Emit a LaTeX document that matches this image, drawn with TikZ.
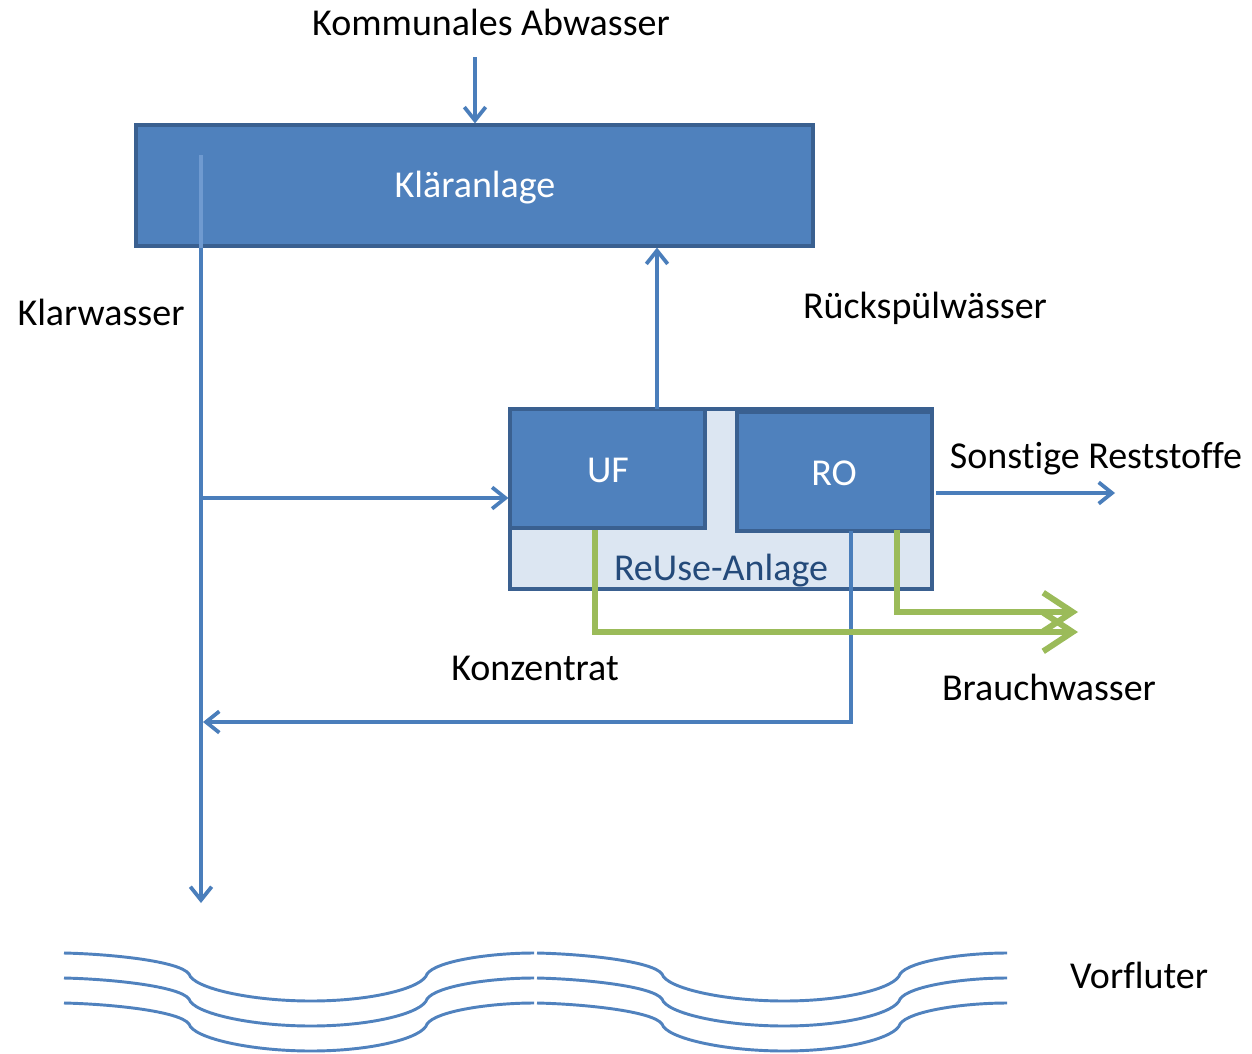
\documentclass[tikz,border=0pt]{standalone}
\usepackage{fontspec}
\setmainfont[Ligatures=NoCommon]{Carlito}
\usetikzlibrary{arrows.meta}
\definecolor{boxblue}{HTML}{4F81BD}
\definecolor{boxedge}{HTML}{3A6090}
\definecolor{lineblue}{HTML}{4A7EBB}
\definecolor{inline}{HTML}{6F9AD0}
\definecolor{lightfill}{HTML}{DCE6F2}
\definecolor{leafgreen}{HTML}{9BBB59}
\definecolor{reusetext}{HTML}{244A7A}
\definecolor{wave}{HTML}{5082BE}
\begin{document}
\begin{tikzpicture}[x=0.75pt,y=-0.75pt,
  lab/.style={font=\fontsize{28.5}{34}\selectfont, anchor=base, inner sep=0pt},
  wlab/.style={lab, text=white},
  bluebox/.style={draw=boxedge, line width=2.4pt, fill=boxblue, inner sep=0pt},
  lightbox/.style={draw=boxedge, line width=2.4pt, fill=lightfill, inner sep=0pt},
  flow/.style={draw=lineblue, line width=2.8pt,
    -{Straight Barb[length=10pt,width=16pt]}},
  greenflow/.style={draw=leafgreen, line width=4.5pt,
    -{Straight Barb[length=22pt,width=29pt]}},
  waveline/.style={draw=wave, line width=2.2pt}
]
\path[use as bounding box, fill=white] (0,0) rectangle (1252,1053);

% boxes
\node[bluebox, minimum width=507.75pt, minimum height=90.75pt] (klaer) at (474.5,185.5) {};
\node[lightbox, minimum width=316.5pt, minimum height=135pt] (reuse) at (721,499) {};
\node[bluebox, minimum width=146.25pt, minimum height=89.25pt] (uf) at (607.5,468.5) {};
\node[bluebox, minimum width=146.25pt, minimum height=89.25pt] (ro) at (834.5,471.5) {};

% texts
\node[lab] (tkomm) at (491,36) {Kommunales Abwasser};
\node[wlab] (tklaer) at (475,197) {Kläranlage};
\node[lab] (tklar) at (101,325) {Klarwasser};
\node[lab] (truck) at (925,318) {Rückspülwässer};
\node[wlab] (tuf) at (608,482) {UF};
\node[wlab] (tro) at (834,485) {RO};
\node[lab] (tsonst) at (1096,468) {Sonstige Reststoffe};
\node[lab, text=reusetext] (treuse) at (721,580) {ReUse-Anlage};
\node[lab] (tkonz) at (535,680) {Konzentrat};
\node[lab] (tbrauch) at (1049,700) {Brauchwasser};
\node[lab] (tvorf) at (1139,988) {Vorfluter};

% coordinates
\coordinate (kin) at (475,57);
\coordinate (kstart) at (201,155);
\coordinate (kend) at (201,903);
\coordinate (b1) at (201,498);
\coordinate (r1) at (657,409);
\coordinate (s1) at (936,493);
\coordinate (s2) at (1115,493);
\coordinate (c1) at (851,531);
\coordinate (c2) at (851,722);
\coordinate (g1) at (595,530);
\coordinate (g1b) at (595,632);
\coordinate (g1e) at (1078,632);
\coordinate (g2) at (897,530);
\coordinate (g2b) at (897,612);
\coordinate (g2e) at (1078,612);

% connectors
\draw[flow] (kin) -- (kin |- klaer.north);
\draw[draw=inline, line width=2.8pt] (kstart) -- (kstart |- klaer.south);
\draw[flow] (kstart |- klaer.south) -- (kend);
\draw[flow] (b1) -- (b1 -| uf.west);
\draw[flow] (r1) -- (r1 |- klaer.south);
\draw[flow] (s1) -- (s2);
\draw[flow] (c1) -- (c2) -- ([xshift=1.5pt]c2 -| kstart);
\draw[greenflow] (g1) -- (g1b) -- (g1e);
\draw[greenflow] (g2) -- (g2b) -- (g2e);

% river waves
\foreach \dy in {0,25,50}{
  \foreach \dx in {0,473}{
    \draw[waveline, shift={(\dx,\dy)}]
      (64,953) .. controls (110,954) and (180,961) .. (189,974)
      .. controls (193,988) and (250,1001) .. (311,1001)
      .. controls (372,1001) and (423,988) .. (427,974)
      .. controls (436,961) and (490,953) .. (534,953);
  }
}
\end{tikzpicture}
\end{document}
